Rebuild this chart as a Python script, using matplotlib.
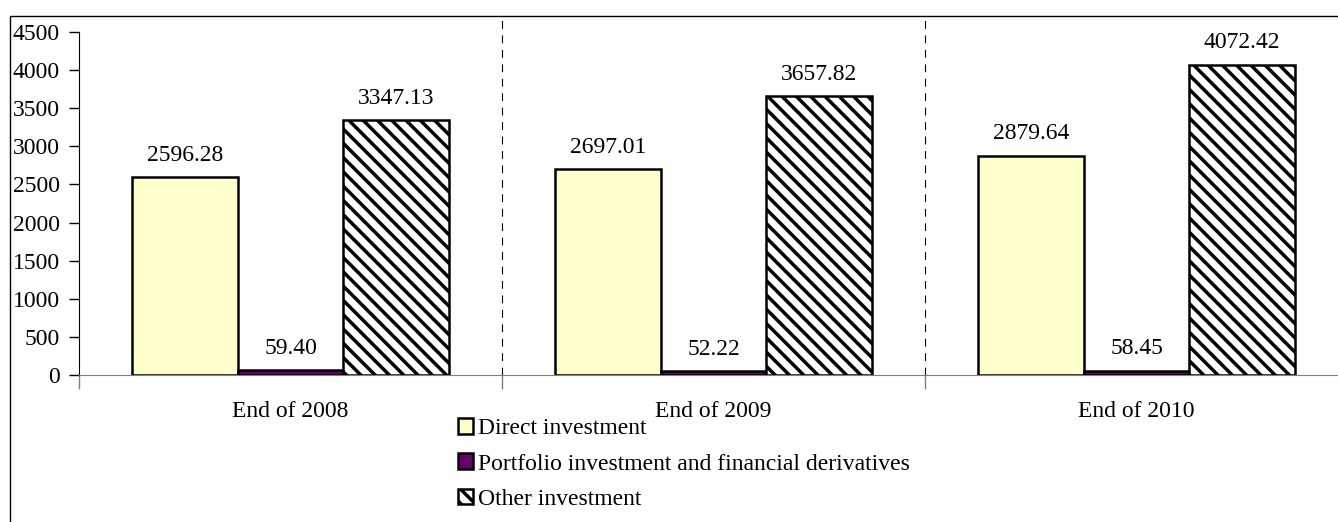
import numpy as np
import matplotlib.pyplot as plt
import matplotlib.backend_bases as mbb
from matplotlib.patches import Rectangle, Patch

plt.rcParams['font.family'] = 'Liberation Serif'
plt.rcParams['hatch.linewidth'] = 2.5

# slightly denser hatch than the default density of 6
_hatch_path = mbb.GraphicsContextBase.get_hatch_path
mbb.GraphicsContextBase.get_hatch_path = lambda self, density=7.2: _hatch_path(self, density)

categories = ['End of 2008', 'End of 2009', 'End of 2010']
direct = [2596.28, 2697.01, 2879.64]
portfolio = [59.40, 52.22, 58.45]
other = [3347.13, 3657.82, 4072.42]
series_names = ['Direct investment',
                'Portfolio investment and financial derivatives',
                'Other investment']

W, H = 1338, 522
fig = plt.figure(figsize=(W / 100, H / 100), dpi=100)

# axes runs a bit past the right edge, like the cropped original
ax = fig.add_axes([79 / W, 1 - 375 / H, 1269 / W, 343 / H])

x = np.arange(len(categories))
bw = 0.25
b1 = ax.bar(x - bw, direct, bw, color='#FFFFCC', edgecolor='black', linewidth=1.8)
b2 = ax.bar(x, portfolio, bw, color='#660066', edgecolor='black', linewidth=1.8)
b3 = ax.bar(x + bw, other, bw, color='white', edgecolor='black', linewidth=1.8,
            hatch='\\\\')

for bars, vals in [(b1, direct), (b2, portfolio), (b3, other)]:
    for rect, v in zip(bars, vals):
        ax.annotate('%.2f' % v, (rect.get_x() + rect.get_width() / 2, v),
                    xytext=(0, 8), textcoords='offset points',
                    ha='center', va='bottom', fontsize=17)

ax.set_xlim(-0.5, 2.5)
ax.set_ylim(0, 4500)
ax.set_yticks(np.arange(0, 4501, 500))
ax.tick_params(axis='y', labelsize=17, length=7, width=1, pad=7, color='black')

ax.set_xticks(x)
ax.set_xticklabels(categories, fontsize=17)
ax.tick_params(axis='x', which='major', length=0, pad=19)
ax.set_xticks([-0.5, 0.5, 1.5, 2.5], minor=True)
ax.tick_params(axis='x', which='minor', length=10, width=1, color='#808080')

for sep in [0.5, 1.5]:
    ax.axvline(sep, ymin=0, ymax=1.035, color='black', linestyle=(0, (7, 6)),
               linewidth=0.8, clip_on=False)

ax.spines['top'].set_visible(False)
ax.spines['right'].set_visible(False)
ax.spines['bottom'].set_color('#808080')
ax.spines['left'].set_color('black')

handles = [Patch(facecolor='#FFFFCC', edgecolor='black', linewidth=1.8),
           Patch(facecolor='#660066', edgecolor='black', linewidth=1.8),
           Patch(facecolor='white', edgecolor='black', linewidth=1.8, hatch='\\\\')]
fig.legend(handles, series_names, loc='upper left',
           bbox_to_anchor=(458 / W, 1 - 418 / H), frameon=False, fontsize=17,
           handlelength=0.65, handleheight=0.65, handletextpad=0.2,
           labelspacing=0.6, borderpad=0, borderaxespad=0)

# outer border of the chart area
fig.patches.append(Rectangle((10 / W, -0.1), 1.2, 1 - 16 / H + 0.1,
                             transform=fig.transFigure, fill=False,
                             edgecolor='black', linewidth=1))

fig.savefig('out.png', dpi=100)
